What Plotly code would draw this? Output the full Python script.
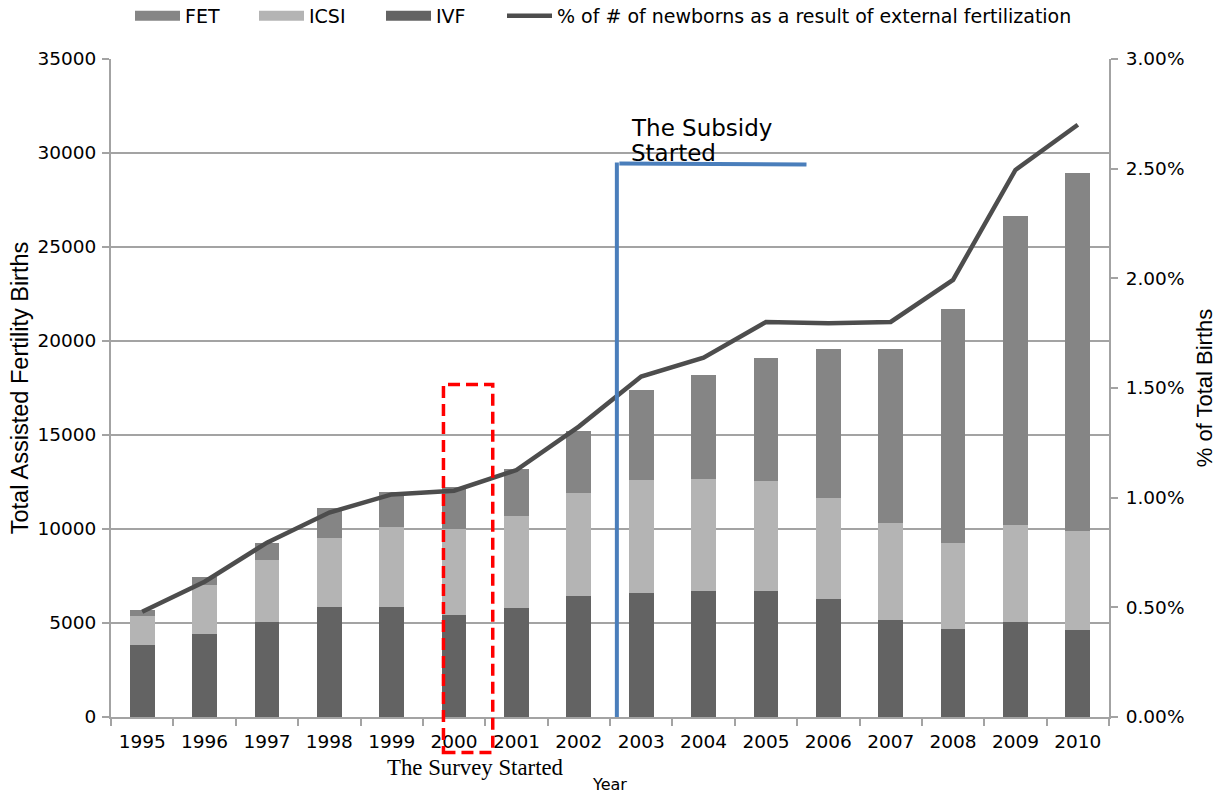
import plotly.graph_objects as go

# ---------------- data ----------------
years = [str(y) for y in range(1995, 2011)]
ivf = [3830, 4410, 5050, 5850, 5850, 5410, 5800, 6440, 6590, 6700, 6700, 6280, 5160, 4680, 5050, 4630]
icsi = [1540, 2610, 3300, 3670, 4250, 4590, 4890, 5470, 6010, 5960, 5850, 5370, 5160, 4580, 5160, 5260]
fet = [320, 430, 910, 1600, 1850, 2250, 2500, 3300, 4790, 5530, 6550, 7920, 9250, 12440, 16440, 19060]
pct_newborns = [0.480, 0.617, 0.795, 0.932, 1.015, 1.032, 1.126, 1.324, 1.552, 1.638,
                1.801, 1.795, 1.801, 1.993, 2.494, 2.700]  # percent of total births

line_name = "% of # of newborns as a result of external fertilization"

# ---------------- style ----------------
C_FET = "#858585"
C_ICSI = "#b4b4b4"
C_IVF = "#636363"
C_LINE = "#4d4d4d"
C_GRID = "#a3a3a3"
TICK_FONT = dict(family="DejaVu Sans", size=18.5, color="#000000")

W, H = 1228, 797
ML, MR, MT, MB = 111, 119, 59, 80
PLOT_W = W - ML - MR
PLOT_H = H - MT - MB
PX0, PY0 = ML, MT                  # page position of plot-area left / top
PY_BOTTOM = PY0 + PLOT_H


def paper_x(px):
    return (px - PX0) / PLOT_W


def paper_y(py):
    return (PY_BOTTOM - py) / PLOT_H


fig = go.Figure()

# legend proxies (wide swatches like the original), one legend box per entry
legend_slots = [("FET", C_FET, "legend"), ("ICSI", C_ICSI, "legend2"), ("IVF", C_IVF, "legend3")]
for nm, col, lg in legend_slots:
    fig.add_trace(go.Scatter(x=[None], y=[None], mode="lines", name=nm, legendgroup=nm,
                             legend=lg, line=dict(color=col, width=12), hoverinfo="skip"))

fig.add_trace(go.Bar(x=years, y=ivf, name="IVF", legendgroup="IVF", showlegend=False,
                     marker=dict(color=C_IVF, line=dict(width=0))))
fig.add_trace(go.Bar(x=years, y=icsi, name="ICSI", legendgroup="ICSI", showlegend=False,
                     marker=dict(color=C_ICSI, line=dict(width=0))))
fig.add_trace(go.Bar(x=years, y=fet, name="FET", legendgroup="FET", showlegend=False,
                     marker=dict(color=C_FET, line=dict(width=0))))

fig.add_trace(go.Scatter(x=years, y=[v / 100 for v in pct_newborns], name=line_name,
                         mode="lines", yaxis="y2", legend="legend4",
                         line=dict(color=C_LINE, width=4.5)))

# ---------------- annotation shapes ----------------
subsidy_x = 7.61      # between 2002 and 2003 (category units)
subsidy_top = 29500
fig.add_shape(type="line", xref="x", yref="y", x0=subsidy_x, x1=subsidy_x, y0=0, y1=subsidy_top,
              line=dict(color="#4a7ebb", width=4), layer="above")
fig.add_shape(type="line", xref="x", yref="y", x0=subsidy_x + 0.04, x1=10.65, y0=subsidy_top - 60,
              y1=subsidy_top - 110, line=dict(color="#4a7ebb", width=4), layer="above")

fig.add_shape(type="rect", xref="x", yref="paper", x0=4.83, x1=5.62,
              y0=paper_y(752.5), y1=paper_y(384.5),
              line=dict(color="#ff0000", width=3.5, dash="12px,6px"), fillcolor="rgba(0,0,0,0)",
              layer="above")

fig.add_annotation(text="The Subsidy", xref="x", yref="y", x=7.81, y=31330, xanchor="left",
                   yanchor="middle", showarrow=False,
                   font=dict(family="DejaVu Sans", size=23, color="#000000"))
fig.add_annotation(text="Started", xref="x", yref="y", x=7.81, y=30000, xanchor="left",
                   yanchor="middle", showarrow=False,
                   font=dict(family="DejaVu Sans", size=23, color="#000000"))
fig.add_annotation(text="The Survey Started", xref="paper", yref="paper", x=paper_x(475),
                   y=paper_y(767), xanchor="center", yanchor="middle", showarrow=False,
                   font=dict(family="Liberation Serif", size=22.8, color="#000000"))

LEG_FONT = dict(family="DejaVu Sans", size=19, color="#000000")
LEG_Y = 1 + (PY0 - 16) / PLOT_H


def leg(px_left):
    return dict(orientation="h", x=paper_x(px_left), xanchor="left", y=LEG_Y, yanchor="middle",
                font=LEG_FONT, itemwidth=45, bgcolor="rgba(0,0,0,0)")


# ---------------- layout ----------------
fig.update_layout(
    width=W, height=H,
    margin=dict(l=ML, r=MR, t=MT, b=MB, autoexpand=False),
    paper_bgcolor="white", plot_bgcolor="white",
    barmode="stack", bargap=0.604,
    showlegend=True,
    legend=leg(130), legend2=leg(254), legend3=leg(381), legend4=leg(502),
    xaxis=dict(type="category", tickson="boundaries", ticks="outside", ticklen=7, tickwidth=1.5,
               tickcolor=C_GRID, showline=True, linecolor=C_GRID, linewidth=2, showgrid=False,
               tickfont=TICK_FONT, ticklabelstandoff=7,
               title=dict(text="Year", font=dict(family="DejaVu Sans", size=16, color="#000000"),
                          standoff=28)),
    yaxis=dict(range=[0, 35000], dtick=5000, tickformat="d", ticks="outside", ticklen=7,
               tickwidth=1.5, tickcolor=C_GRID, showline=True, linecolor=C_GRID, linewidth=2,
               showgrid=True, gridcolor=C_GRID, gridwidth=2, zeroline=False,
               tickfont=TICK_FONT, ticklabelstandoff=2,
               title=dict(text="Total Assisted Fertility Births",
                          font=dict(family="Liberation Sans", size=23.5, color="#000000"),
                          standoff=2)),
    yaxis2=dict(range=[0, 0.03], dtick=0.005, tickformat=".2%", overlaying="y", side="right",
                ticks="outside", ticklen=7, tickwidth=1.5, tickcolor=C_GRID, showline=True,
                linecolor=C_GRID, linewidth=2, showgrid=False, zeroline=False,
                tickfont=TICK_FONT, ticklabelstandoff=4,
                title=dict(text="% of Total Births",
                           font=dict(family="Liberation Sans", size=22, color="#000000"),
                           standoff=13)),
)

# let the figure fill the window exactly (no default 8px page margin), no mode bar
fig.write_html("out.html", config={"displayModeBar": False},
               post_script="document.body.style.margin='0';")
